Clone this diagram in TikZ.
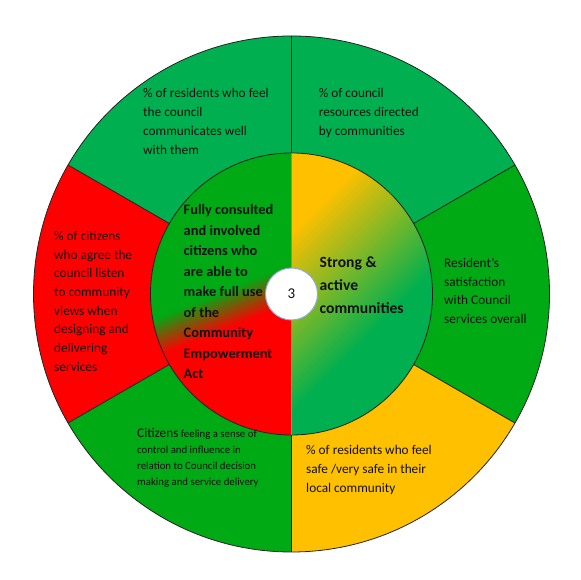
\documentclass[tikz,border=0pt]{standalone}
\usepackage{fontspec}
\setmainfont{Carlito}
\definecolor{tealgreen}{HTML}{00B050}
\definecolor{brightgreen}{HTML}{00AA14}
\definecolor{myred}{HTML}{FF0000}
\definecolor{myyellow}{HTML}{FFC000}
\definecolor{edgegray}{HTML}{222222}
\definecolor{midgray}{HTML}{7F8C99}
\definecolor{hubline}{HTML}{8FAADC}
\definecolor{inkblack}{HTML}{111111}
\newcommand{\seglines}[3]{\parbox[t]{220pt}{\fontsize{#1}{#2}\selectfont #3}}
\begin{document}
\begin{tikzpicture}[x=1pt,y=1pt,
  txt/.style={anchor=base west, inner sep=0pt, text=inkblack},
  ringline/.style={draw=edgegray, line width=0.8pt}]
\useasboundingbox (0,0) rectangle (580,580);
\begin{scope}[shift={(291.5,286)}]
  % outer ring sectors
  \fill[tealgreen] (0,0) -- (30:258) arc[start angle=30,end angle=150,radius=258] -- cycle;
  \fill[myred] (0,0) -- (150:258) arc[start angle=150,end angle=210,radius=258] -- cycle;
  \fill[brightgreen] (0,0) -- (210:258) arc[start angle=210,end angle=270,radius=258] -- cycle;
  \fill[myyellow] (0,0) -- (270:258) arc[start angle=270,end angle=330,radius=258] -- cycle;
  \fill[brightgreen] (0,0) -- (330:258) arc[start angle=330,end angle=390,radius=258] -- cycle;
  % inner left half: green to red
  \begin{scope}
    \clip (0,-141) arc[start angle=270,end angle=90,radius=141] -- cycle;
    \begin{scope}[rotate=22]
      \fill[brightgreen] (-200,27.5) rectangle (200,200);
      \fill[myred] (-200,-200) rectangle (200,-7.5);
      \foreach \i in {0,...,35} {
        \pgfmathsetmacro\ya{-8+\i}
        \pgfmathsetmacro\yb{-8+\i+1.4}
        \pgfmathtruncatemacro\p{100-100*(\i+0.5)/36}
        \fill[myred!\p!brightgreen] (-200,\ya) rectangle (200,\yb);
      }
    \end{scope}
  \end{scope}
  % inner right half: yellow to green
  \begin{scope}
    \clip (0,-141) arc[start angle=-90,end angle=90,radius=141] -- cycle;
    \begin{scope}[rotate=45]
      \fill[myyellow] (-200,41.5) rectangle (200,200);
      \fill[tealgreen] (-200,-200) rectangle (200,-84.5);
      \foreach \i in {0,...,126} {
        \pgfmathsetmacro\ya{-85+\i}
        \pgfmathsetmacro\yb{-85+\i+1.4}
        \pgfmathtruncatemacro\p{100*(\i+0.5)/127}
        \fill[myyellow!\p!tealgreen] (-200,\ya) rectangle (200,\yb);
      }
    \end{scope}
  \end{scope}
  % outlines
  \draw[ringline] (0,0) circle[radius=258];
  \draw[ringline] (0,0) circle[radius=141];
  \foreach \a in {30,150,210,330} \draw[ringline] (\a:141) -- (\a:258);
  \draw[ringline] (0,141) -- (0,258);
  \draw[ringline] (0,-141) -- (0,-258);
  \draw[draw=midgray, line width=0.8pt] (0,-141) -- (0,141);
  \node[circle, fill=white, draw=hubline, line width=1pt, minimum size=52pt,
        inner sep=0pt, text=inkblack, font=\fontsize{15}{18}\selectfont] (hub) at (0,0) {3};
\end{scope}
% outer ring texts
\node[txt] (tl) at (143,482) {\seglines{13.3}{18.7}{\% of residents who feel\\the council\\communicates well\\with them}};
\node[txt] (tr) at (318.7,482) {\seglines{13.3}{18.7}{\% of council\\resources directed\\by communities}};
\node[txt] (lf) at (54,339.5) {\seglines{13.3}{18.7}{\% of citizens\\who agree the\\council listen\\to community\\views when\\designing and\\delivering\\services}};
\node[txt] (rt) at (444,312.5) {\seglines{13.3}{18.7}{Resident’s\\satisfaction\\with Council\\services overall}};
\node[txt] (bl) at (137,142) {\seglines{10.8}{15.8}{{\fontsize{13.3}{15.8}\selectfont Citizens} feeling a sense of\\control and influence in\\relation to Council decision\\making and service delivery}};
\node[txt] (br) at (306,125) {\seglines{13.3}{18.7}{\% of residents who feel\\safe /very safe in their\\local community}};
% inner texts
\node[txt] (il) at (183.5,365.3) {\seglines{14.4}{20.5}{\bfseries Fully consulted\\and involved\\citizens who\\are able to\\make full use\\of the\\Community\\Empowerment\\Act}};
\node[txt] (ir) at (319.5,312) {\seglines{15.6}{23}{\bfseries Strong \&\\active\\communities}};
\end{tikzpicture}
\end{document}
